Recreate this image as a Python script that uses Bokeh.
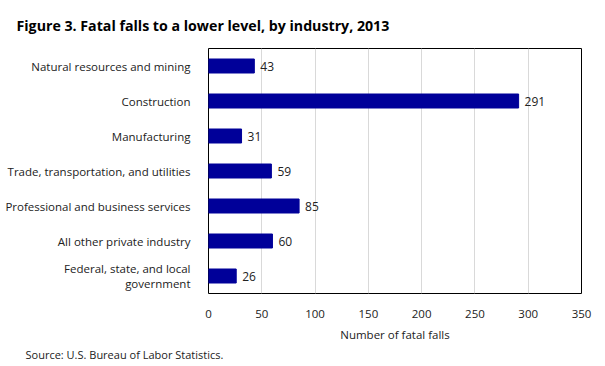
from bokeh.plotting import figure
from bokeh.models import ColumnDataSource, FactorRange, Range1d, Title, FixedTicker
from bokeh.embed import file_html
from bokeh.resources import INLINE
from bokeh.core.properties import value

categories = [
    "Natural resources and mining",
    "Construction",
    "Manufacturing",
    "Trade, transportation, and utilities",
    "Professional and business services",
    "All other private industry",
    "Federal, state, and local\ngovernment",
]
falls = [43, 291, 31, 59, 85, 60, 26]
x_ticks = [0, 50, 100, 150, 200, 250, 300, 350]

FONT = "Open Sans"
TXT = "#222222"

src = ColumnDataSource(dict(cat=categories, v=falls, lab=[str(v) for v in falls]))

p = figure(
    width=605, height=366,
    y_range=FactorRange(factors=list(reversed(categories)), range_padding=0),
    x_range=Range1d(0, 350),
    output_backend="svg", toolbar_location=None,
    min_border_left=208, min_border_right=24, min_border_top=47, min_border_bottom=73,
)
p.hbar(y="cat", right="v", height=0.4, source=src, color="#000099")
p.text(x="v", y="cat", text="lab", source=src, x_offset=6, text_baseline="middle",
       text_font=value(FONT), text_font_size="12px", text_color=TXT)

p.outline_line_color = "black"
p.outline_line_width = 1
p.ygrid.grid_line_color = None
p.xgrid.grid_line_color = "#d9d9d9"
p.xgrid.ticker = FixedTicker(ticks=x_ticks)
p.xaxis.ticker = FixedTicker(ticks=x_ticks)

for ax in (p.xaxis, p.yaxis):
    ax.axis_line_color = None
    ax.major_tick_line_color = None
    ax.minor_tick_line_color = None
    ax.major_label_text_font = FONT
    ax.major_label_text_font_size = "11.5px"
    ax.major_label_text_color = TXT
p.yaxis.major_label_text_line_height = 1.05
p.xaxis.major_label_standoff = 10
p.yaxis.major_label_standoff = 12
p.xaxis.axis_label = "Number of fatal falls"
p.xaxis.axis_label_text_font = FONT
p.xaxis.axis_label_text_font_size = "11.5px"
p.xaxis.axis_label_text_font_style = "normal"
p.xaxis.axis_label_text_color = TXT
p.xaxis.axis_label_standoff = 6

p.title.text = "Figure 3. Fatal falls to a lower level, by industry, 2013"
p.title.align = "left"
p.title.offset = -192
p.title.standoff = 27
p.title.text_font = FONT
p.title.text_font_size = "14.2px"
p.title.text_font_style = "bold"
p.title.text_color = "black"

p.add_layout(Title(text="Source: U.S. Bureau of Labor Statistics.", align="left", offset=-183,
                   standoff=0, text_font=FONT, text_font_size="11px", text_font_style="normal",
                   text_color=TXT), "below")

open("out.html", "w").write(file_html(p, INLINE))
